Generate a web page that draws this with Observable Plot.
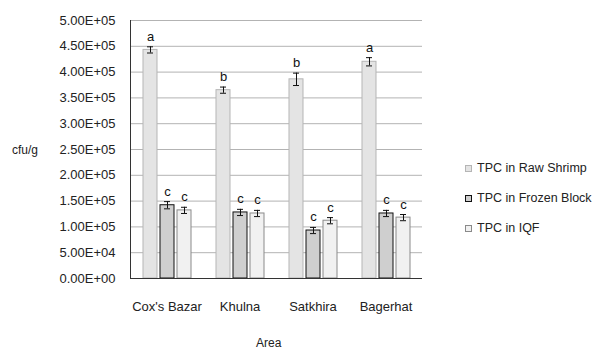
<!DOCTYPE html>
<html>
<head>
<meta charset="utf-8">
<script src="https://cdn.jsdelivr.net/npm/d3@7"></script>
<script src="https://cdn.jsdelivr.net/npm/@observablehq/plot@0.6"></script>
<style>
  html, body { margin: 0; padding: 0; background: #fff; }
  #wrap { position: relative; width: 605px; height: 351px; font-family: "Liberation Sans", Arial, sans-serif; color: #222; }
  #wrap svg { position: absolute; left: 0; top: 0; }
  .lab { position: absolute; font-size: 12px; white-space: nowrap; }
  .legend { position: absolute; left: 465px; top: 153px; font-size: 12.5px; }
  .legend .item { display: flex; align-items: center; height: 30px; white-space: nowrap; }
  .legend .sw { width: 7px; height: 7px; margin-right: 5px; box-sizing: border-box; }
</style>
</head>
<body>
<div id="wrap"></div>
<script>
const areas = ["Cox's Bazar", "Khulna", "Satkhira", "Bagerhat"];
const series = ["TPC in Raw Shrimp", "TPC in Frozen Block", "TPC in IQF"];
const rawShrimp = [443000, 365000, 386000, 420000];
const frozenBlock = [142000, 128000, 93000, 126000];
const iqf = [132000, 126000, 112000, 118000];
const rawErr = [6000, 6000, 12000, 8000];
const frozenErr = [7000, 6000, 6000, 6000];
const iqfErr = [6000, 6000, 6000, 6000];
const rawLetters = ["a", "b", "b", "a"];
const frozenLetters = ["c", "c", "c", "c"];
const iqfLetters = ["c", "c", "c", "c"];
const yTicks = [0, 50000, 100000, 150000, 200000, 250000, 300000, 350000, 400000, 450000, 500000];
const fills = ["#e4e4e4", "#cfcfcf", "#f1f1f1"];
const strokes = ["#b5b5b5", "#111111", "#8a8a8a"];

const valuesBySeries = [rawShrimp, frozenBlock, iqf];
const errBySeries = [rawErr, frozenErr, iqfErr];
const lettersBySeries = [rawLetters, frozenLetters, iqfLetters];
const data = areas.flatMap((a, i) => series.map((s, j) => ({
  area: a, series: s, value: valuesBySeries[j][i], err: errBySeries[j][i], letter: lettersBySeries[j][i]
})));

const fmt = v => { const [m, e] = v.toExponential(2).split("e"); return m + "E" + e[0] + e.slice(1).padStart(2, "0"); };

const chart = Plot.plot({
  width: 605, height: 351,
  marginLeft: 130, marginRight: 183, marginTop: 20, marginBottom: 73,
  style: { fontFamily: "'Liberation Sans', Arial, sans-serif", fontSize: "13px", background: "transparent", color: "#222" },
  fx: { domain: areas, padding: 0, label: null, tickSize: 0, tickPadding: 23 },
  x: { domain: series, paddingInner: 0.18, paddingOuter: 0.735, axis: null },
  y: { domain: [0, 500000], ticks: yTicks, tickFormat: fmt, label: null, tickSize: 0, tickPadding: 15 },
  color: { domain: series, range: fills },
  marks: [
    Plot.gridY(yTicks, { stroke: "#b3b3b3", strokeOpacity: 1 }),
    Plot.barY(data, { fx: "area", x: "series", y: "value", fill: "series",
      stroke: d => strokes[series.indexOf(d.series)], strokeWidth: 1 }),
    Plot.ruleY([0], { stroke: "#333" }),
    Plot.frame({ anchor: "left", facetAnchor: "left", stroke: "#333" }),
    Plot.ruleX(data, { fx: "area", x: "series", y1: d => d.value - d.err, y2: d => d.value + d.err, stroke: "#111" }),
    Plot.tickY(data, { fx: "area", x: "series", y: d => d.value + d.err, insetLeft: 4, insetRight: 4, stroke: "#111" }),
    Plot.tickY(data, { fx: "area", x: "series", y: d => d.value - d.err, insetLeft: 4, insetRight: 4, stroke: "#111" }),
    Plot.text(data, { fx: "area", x: "series", y: d => d.value + d.err, text: "letter", dy: -6, lineAnchor: "bottom", fontSize: 13, fill: "#111" })
  ]
});

const wrap = document.getElementById("wrap");
wrap.appendChild(chart);

const yTitle = document.createElement("div");
yTitle.className = "lab"; yTitle.textContent = "cfu/g";
yTitle.style.left = "12px"; yTitle.style.top = "143px";
wrap.appendChild(yTitle);

const xTitle = document.createElement("div");
xTitle.className = "lab"; xTitle.textContent = "Area";
xTitle.style.left = "256px"; xTitle.style.top = "336px";
wrap.appendChild(xTitle);

const legend = document.createElement("div");
legend.className = "legend";
series.forEach((s, j) => {
  const item = document.createElement("div"); item.className = "item";
  const sw = document.createElement("div"); sw.className = "sw";
  sw.style.background = fills[j]; sw.style.border = "1px solid " + strokes[j];
  const t = document.createElement("span"); t.textContent = s;
  item.appendChild(sw); item.appendChild(t); legend.appendChild(item);
});
wrap.appendChild(legend);
</script>
</body>
</html>
